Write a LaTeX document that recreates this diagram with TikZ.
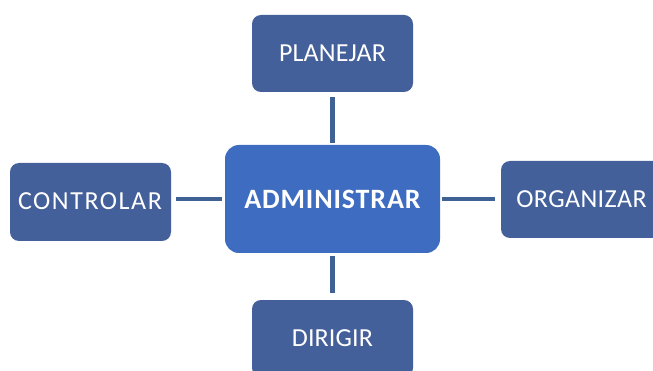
\documentclass[tikz,border=0pt]{standalone}
\usepackage{fontspec}
\setmainfont{Carlito}
\definecolor{boxblue}{HTML}{44609A}
\definecolor{centerblue}{HTML}{3D6CC0}
\definecolor{linkblue}{HTML}{3F6193}
\newcommand{\ls}[1]{\addfontfeature{LetterSpace=#1}}
\begin{document}
\begin{tikzpicture}[x=1pt,y=-1pt,
  outerbox/.style={fill=boxblue, rounded corners=9pt, text=white, inner sep=0pt,
     minimum width=161pt, minimum height=77pt},
  lbl/.style={text=white, inner sep=0pt, font=\fontsize{26}{31}\selectfont},
  centerbox/.style={fill=centerblue, rounded corners=14pt, text=white, inner sep=0pt,
     font=\fontsize{28}{33}\selectfont\bfseries},
  link/.style={draw=linkblue, line width=4.5pt}]
\useasboundingbox (0,0) rectangle (653,371);
\path[clip] (0,0) rectangle (653,371);
\node[centerbox, minimum width=215pt, minimum height=108pt] (adm) at (332.5,199) {\ls{3}ADMINISTRAR};
\node[outerbox] (plan) at (332.5,53.5) {};
\node[lbl] (plant) at (332.5,53.5) {\ls{0.5}PLANEJAR};
\node[outerbox] (dir) at (332.5,338.5) {};
\node[lbl] (dirt) at (332.5,338) {\ls{0.5}DIRIGIR};
\node[outerbox, minimum height=78pt] (ctrl) at (90.5,202) {};
\node[lbl] (ctrlt) at (90,201.5) {\ls{6}CONTROLAR};
\node[outerbox] (org) at (581.5,199.5) {};
\node[lbl] (orgt) at (581.5,199.5) {\ls{1.5}ORGANIZAR};
\draw[link, shorten <=5pt, shorten >=2pt] (plan.south) -- (adm.north);
\draw[link, shorten <=3pt, shorten >=7pt] (adm.south) -- (dir.north);
\draw[link, shorten <=5pt, shorten >=3pt] (ctrl.east |- adm) -- (adm.west);
\draw[link, shorten <=2pt, shorten >=6pt] (adm.east) -- (org.west |- adm);
\end{tikzpicture}
\end{document}
